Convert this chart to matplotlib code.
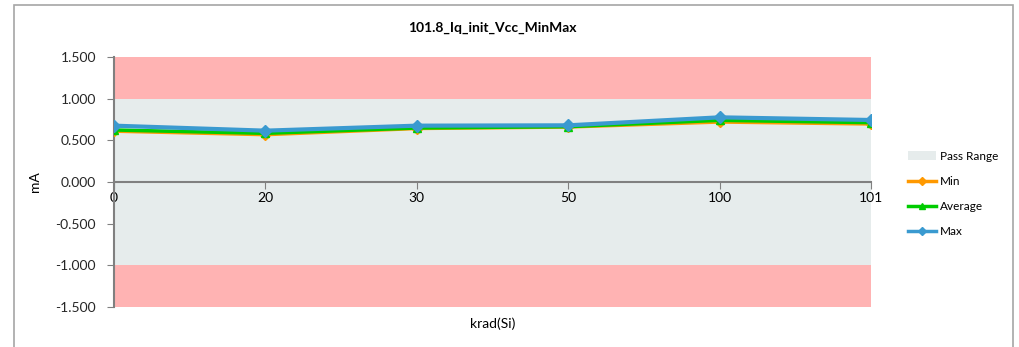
import matplotlib
matplotlib.use("Agg")
import matplotlib.pyplot as plt
from matplotlib.patches import Patch, Rectangle
from matplotlib.lines import Line2D

plt.rcParams['font.family'] = ['Lato', 'DejaVu Sans']

categories = ["0", "20", "30", "50", "100", "101"]
min_vals = [0.610, 0.568, 0.642, 0.660, 0.720, 0.696]
avg_vals = [0.624, 0.584, 0.648, 0.664, 0.740, 0.712]
max_vals = [0.676, 0.616, 0.676, 0.680, 0.776, 0.744]
pass_low, pass_high = -1.0, 1.0
y_min, y_max = -1.5, 1.5
y_ticks = [-1.5, -1.0, -0.5, 0.0, 0.5, 1.0, 1.5]

W, H = 1019, 347
fig = plt.figure(figsize=(W / 100, H / 100), dpi=100)
ax = fig.add_axes([114 / W, 1 - 307 / H, (871 - 114) / W, (307 - 57) / H])

# figure border
fig.patches.append(Rectangle((14 / W, -0.1), (1013 - 14) / W, 1.1 - 5 / H,
                             transform=fig.transFigure, fill=False,
                             edgecolor='#A6A6A6', linewidth=1.2, zorder=0))

x = list(range(len(categories)))
ax.set_xlim(0, len(categories) - 1)
ax.set_ylim(y_min, y_max)

ax.axhspan(pass_high, y_max, color='#FFB3B3', lw=0, zorder=0)
ax.axhspan(y_min, pass_low, color='#FFB3B3', lw=0, zorder=0)
ax.axhspan(pass_low, pass_high, color='#E6ECEC', lw=0, zorder=0)

ax.plot(x, min_vals, color='#FF9900', lw=2.5, marker='D', ms=5, zorder=3)
ax.plot(x, avg_vals, color='#00CC00', lw=2.5, marker='^', ms=6, zorder=4)
ax.plot(x, max_vals, color='#3A9AD0', lw=3, marker='D', ms=6, zorder=5)

ax.set_xticks(x)
ax.set_xticklabels(categories, fontsize=9, color='#262626')
ax.set_yticks(y_ticks)
ax.set_yticklabels([f"{v:.3f}" for v in y_ticks], fontsize=10, color='#262626')

for s in ['top', 'right']:
    ax.spines[s].set_visible(False)
ax.spines['bottom'].set_position(('data', 0))
ax.spines['bottom'].set_color('#808080')
ax.spines['bottom'].set_linewidth(1.5)
ax.spines['left'].set_color('#808080')
ax.spines['left'].set_linewidth(1.5)
ax.tick_params(axis='y', direction='out', length=5, color='#808080', pad=8)
ax.tick_params(axis='x', direction='out', length=5, color='#808080', pad=2)
ax.set_facecolor('white')

ax.set_title("101.8_Iq_init_Vcc_MinMax", fontsize=10, fontweight='bold', pad=18)
ax.set_ylabel("mA", fontsize=10, labelpad=10)
ax.set_xlabel("krad(Si)", fontsize=10)
ax.xaxis.set_label_coords(0.5, -0.04)

handles = [Patch(facecolor='#E6ECEC', edgecolor='none'),
           Line2D([0], [0], color='#FF9900', lw=2.5, marker='D', ms=4),
           Line2D([0], [0], color='#00CC00', lw=2.5, marker='^', ms=5),
           Line2D([0], [0], color='#3A9AD0', lw=2.5, marker='D', ms=4)]
labels = ["Pass Range", "Min", "Average", "Max"]
fig.legend(handles, labels, loc='center left', bbox_to_anchor=(897 / W, 1 - 194 / H),
           frameon=False, fontsize=8.5, handlelength=2.4, labelspacing=1.2,
           handletextpad=0.3)

fig.savefig("out.png", dpi=100)
